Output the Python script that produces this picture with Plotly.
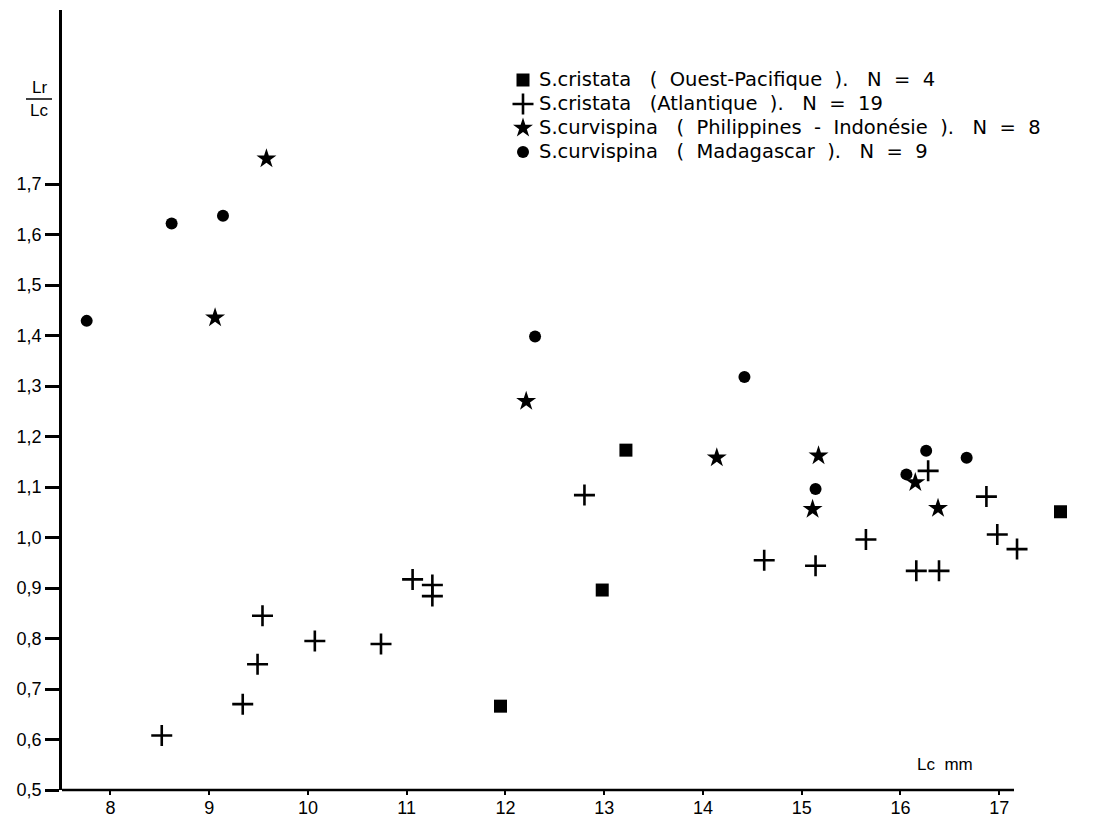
import plotly.graph_objects as go

# --- data ---
x_square = [13.22, 12.98, 11.95, 17.62]
y_square = [1.173, 0.896, 0.666, 1.051]

x_cross = [8.52, 9.34, 9.49, 9.54, 10.07, 10.74, 11.06, 11.26, 11.26, 12.80,
           14.62, 15.14, 15.65, 16.16, 16.28, 16.39, 16.87, 16.98, 17.18]
y_cross = [0.608, 0.670, 0.749, 0.845, 0.795, 0.789, 0.917, 0.906, 0.884, 1.084,
           0.955, 0.944, 0.996, 0.934, 1.132, 0.934, 1.081, 1.006, 0.977]

x_star = [9.06, 9.58, 12.21, 14.14, 15.11, 15.17, 16.15, 16.38]
y_star = [1.435, 1.750, 1.270, 1.158, 1.056, 1.162, 1.109, 1.058]

x_circ = [7.76, 8.62, 9.14, 12.30, 14.42, 15.14, 16.06, 16.26, 16.67]
y_circ = [1.429, 1.622, 1.637, 1.398, 1.318, 1.096, 1.125, 1.172, 1.158]

x_ticks = [8, 9, 10, 11, 12, 13, 14, 15, 16, 17]
y_ticks = [0.5, 0.6, 0.7, 0.8, 0.9, 1.0, 1.1, 1.2, 1.3, 1.4, 1.5, 1.6, 1.7]
y_ticktext = ["0,5", "0,6", "0,7", "0,8", "0,9", "1,0", "1,1", "1,2", "1,3",
              "1,4", "1,5", "1,6", "1,7"]

names = [
    "S.cristata   (  Ouest-Pacifique  ).   N  =  4",
    "S.cristata   (Atlantique  ).   N  =  19",
    "S.curvispina   (  Philippines  -  Indonésie  ).   N  =  8",
    "S.curvispina   (  Madagascar  ).   N  =  9",
]

FONT = "Liberation Sans, Arial, sans-serif"
LFONT = "DejaVu Sans, Liberation Sans, sans-serif"

L, R, T, B = 62, 6, 10, 38
W, H = 1105, 828
pw, ph = W - L - R, H - T - B


def px(xp):
    return (xp - L) / pw


def py(yp):
    return (H - B - yp) / ph


fig = go.Figure()
fig.add_trace(go.Scatter(x=x_square, y=y_square, mode="markers", name=" ",
                         marker=dict(symbol="square", size=13, color="black")))
fig.add_trace(go.Scatter(x=x_cross, y=y_cross, mode="markers", name=" ",
                         marker=dict(symbol="cross-thin", size=15, color="black",
                                     line=dict(width=2.6, color="black"))))
fig.add_trace(go.Scatter(x=x_star, y=y_star, mode="markers", name=" ",
                         marker=dict(symbol="star", size=15, color="black")))
fig.add_trace(go.Scatter(x=x_circ, y=y_circ, mode="markers", name=" ",
                         marker=dict(symbol="circle", size=12, color="black")))

row_h = 24.0
LEG_FS = (row_h - 3) / 1.3
first_row = 79
leg_top = first_row - row_h / 2 - 4

fig.update_layout(
    width=W, height=H,
    margin=dict(l=L, r=R, t=T, b=B),
    paper_bgcolor="white", plot_bgcolor="white",
    font=dict(family=FONT, size=18, color="black"),
    showlegend=True,
    legend=dict(x=px(503), y=py(leg_top), xanchor="left", yanchor="top",
                bgcolor="rgba(0,0,0,0)", font=dict(size=LEG_FS, family=LFONT),
                itemsizing="trace", tracegroupgap=0),
    xaxis=dict(range=[7.51, 18.01], tickvals=x_ticks, ticktext=[str(v) for v in x_ticks],
               showgrid=False, zeroline=False, showline=False,
               ticks="outside", ticklen=4, tickwidth=2, tickcolor="black",
               ticklabelstandoff=-3,
               tickfont=dict(size=18, family=FONT)),
    yaxis=dict(range=[0.5, 2.0446], tickvals=y_ticks, ticktext=y_ticktext,
               showgrid=False, zeroline=False, showline=True, linewidth=2.8,
               linecolor="black", ticks="outside", ticklen=14, tickwidth=2.5,
               tickcolor="black", tickfont=dict(size=18, family=FONT)),
)

# legend texts, aligned with the legend symbol rows
for i, name in enumerate(names):
    fig.add_annotation(text=name, xref="paper", yref="paper",
                       x=px(538), y=py(first_row + i * row_h),
                       xanchor="left", yanchor="middle", showarrow=False,
                       borderpad=0,
                       font=dict(size=19.5, family=LFONT))

# x axis line (stops just past 17, as in the reference)
fig.add_shape(type="line", xref="paper", yref="paper", x0=0, x1=px(1014), y0=0, y1=0,
              line=dict(color="black", width=2.6))

# y axis title as a fraction Lr / Lc
fig.add_annotation(text="Lr", xref="paper", yref="paper", x=px(39), y=py(88),
                   xanchor="center", yanchor="middle",
                   showarrow=False, font=dict(size=17, family=FONT))
fig.add_annotation(text="Lc", xref="paper", yref="paper", x=px(39), y=py(111),
                   xanchor="center", yanchor="middle",
                   showarrow=False, font=dict(size=17, family=FONT))
fig.add_shape(type="line", xref="paper", yref="paper", x0=px(26), x1=px(52),
              y0=py(99), y1=py(99), line=dict(color="black", width=1.5))

# x axis title
fig.add_annotation(text="Lc  mm", xref="paper", yref="paper", x=px(945), y=py(764),
                   xanchor="center", yanchor="middle",
                   showarrow=False, font=dict(size=17, family=FONT))

fig.write_html("out.html")
